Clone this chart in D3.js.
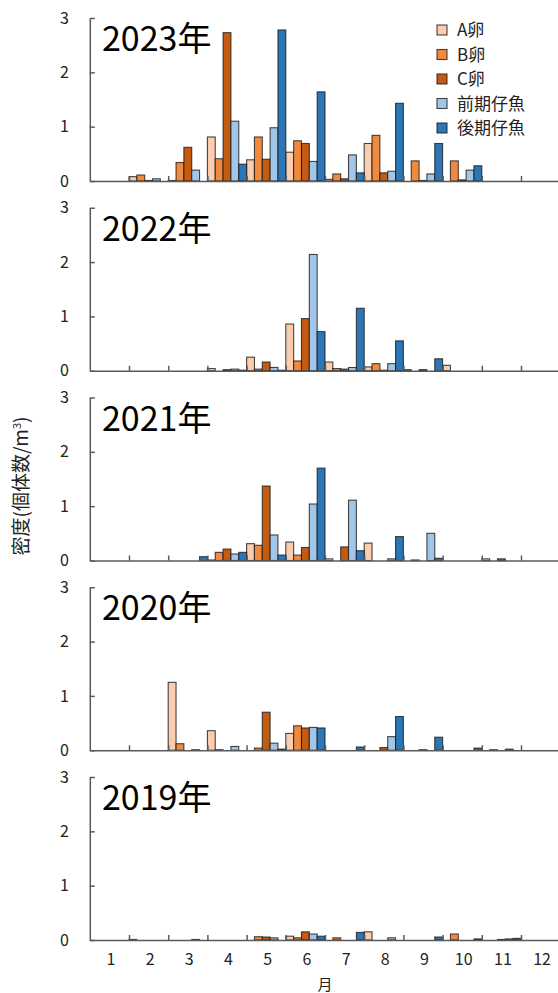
<!DOCTYPE html>
<html>
<head>
<meta charset="utf-8">
<script src="https://cdn.jsdelivr.net/npm/d3@7"></script>
<style>
  html, body { margin: 0; padding: 0; background: #fff; }
  svg { display: block; font-family: "Noto Sans CJK JP", "Noto Sans", sans-serif; }
</style>
</head>
<body>
<svg id="chart" width="558" height="993"></svg>
<script>
// ---- data ----
const months = [1, 2, 3, 4, 5, 6, 7, 8, 9, 10, 11, 12];
const series = ["A卵", "B卵", "C卵", "前期仔魚", "後期仔魚"];
const years = ["2023年", "2022年", "2021年", "2020年", "2019年"];
const yTicks = [0, 1, 2, 3];

// values per month (Jan..Dec), one array per series
const v2023_A  = [0, 0.08, 0.01, 0.81, 0.39, 0.53, 0.03, 0.69, 0, 0, 0, 0];
const v2023_B  = [0, 0.11, 0.34, 0.41, 0.81, 0.74, 0.13, 0.84, 0.37, 0.37, 0, 0];
const v2023_C  = [0, 0.01, 0.62, 2.73, 0.40, 0.69, 0.04, 0.15, 0.01, 0.02, 0, 0];
const v2023_Pr = [0, 0.04, 0.20, 1.10, 0.98, 0.36, 0.48, 0.18, 0.13, 0.20, 0, 0];
const v2023_Po = [0, 0, 0, 0.31, 2.78, 1.64, 0.15, 1.43, 0.69, 0.28, 0, 0];

const v2022_A  = [0, 0, 0, 0.04, 0.25, 0.86, 0.16, 0.07, 0.02, 0.10, 0, 0];
const v2022_B  = [0, 0, 0, 0, 0.03, 0.18, 0.04, 0.13, 0, 0, 0, 0];
const v2022_C  = [0, 0, 0, 0.02, 0.16, 0.96, 0.03, 0.01, 0.02, 0, 0, 0];
const v2022_Pr = [0, 0, 0, 0.03, 0.06, 2.14, 0.06, 0.13, 0, 0, 0, 0];
const v2022_Po = [0, 0, 0, 0.01, 0.01, 0.72, 1.15, 0.55, 0.22, 0, 0, 0];

const v2021_A  = [0, 0, 0, 0.01, 0.31, 0.34, 0.03, 0.32, 0, 0, 0.03, 0];
const v2021_B  = [0, 0, 0, 0.15, 0.28, 0.10, 0, 0, 0.01, 0, 0, 0];
const v2021_C  = [0, 0, 0, 0.21, 1.37, 0.24, 0.25, 0, 0, 0, 0.03, 0];
const v2021_Pr = [0, 0, 0, 0.12, 0.47, 1.04, 1.11, 0.03, 0.50, 0, 0, 0];
const v2021_Po = [0, 0, 0.07, 0.15, 0.10, 1.70, 0.18, 0.44, 0.04, 0, 0, 0];

const v2020_A  = [0, 0, 1.25, 0.36, 0, 0.31, 0, 0, 0, 0, 0, 0];
const v2020_B  = [0, 0, 0.12, 0.01, 0.04, 0.45, 0, 0, 0, 0, 0.01, 0];
const v2020_C  = [0, 0, 0, 0, 0.70, 0.41, 0, 0.05, 0.01, 0, 0, 0];
const v2020_Pr = [0, 0, 0.01, 0.07, 0.13, 0.42, 0, 0.25, 0, 0, 0.02, 0];
const v2020_Po = [0, 0, 0, 0, 0.02, 0.41, 0.06, 0.62, 0.24, 0.04, 0, 0];

const v2019_A  = [0, 0.01, 0, 0, 0, 0.07, 0, 0.15, 0, 0, 0, 0];
const v2019_B  = [0, 0, 0, 0, 0.06, 0.04, 0.04, 0, 0, 0.11, 0, 0];
const v2019_C  = [0, 0, 0, 0, 0.055, 0.15, 0, 0, 0, 0, 0.01, 0];
const v2019_Pr = [0, 0, 0.01, 0, 0.04, 0.11, 0, 0.04, 0, 0, 0.02, 0];
const v2019_Po = [0, 0, 0, 0, 0, 0.07, 0.14, 0, 0.055, 0.02, 0.03, 0];

const panelValues = [
  [v2023_A, v2023_B, v2023_C, v2023_Pr, v2023_Po],
  [v2022_A, v2022_B, v2022_C, v2022_Pr, v2022_Po],
  [v2021_A, v2021_B, v2021_C, v2021_Pr, v2021_Po],
  [v2020_A, v2020_B, v2020_C, v2020_Pr, v2020_Po],
  [v2019_A, v2019_B, v2019_C, v2019_Pr, v2019_Po]
];

// ---- styles / layout ----
const colors = ["#f9cdae", "#f28a3e", "#c55a11", "#a2c6e8", "#2e75b6"];
const axisColor = "#5a5a5a";
const top0 = 18, step = 189.75, panelH = 163;
const xLeft = 89.8, xRight = 560.2;

const svg = d3.select("#chart");
svg.append("rect").attr("width", 558).attr("height", 993).attr("fill", "#fff");

const x = d3.scaleBand().domain(months).range([xLeft, xRight]).padding(0);
const xs = d3.scaleBand().domain(series).range([0, x.bandwidth()]).padding(0);
const xLin = d3.scaleLinear().domain([0.5, 12.5]).range([xLeft, xRight]);
const y = d3.scaleLinear().domain([0, 3]).range([panelH, 0]);
const color = d3.scaleOrdinal().domain(series).range(colors);

panelValues.forEach((vals, i) => {
  const g = svg.append("g").attr("transform", `translate(0,${top0 + i * step})`);

  // bars
  const data = [];
  vals.forEach((arr, k) => arr.forEach((v, j) => {
    if (v > 0) data.push({ s: series[k], m: months[j], v });
  }));
  g.selectAll("rect.bar").data(data).join("rect")
    .attr("class", "bar")
    .attr("x", d => x(d.m) + xs(d.s))
    .attr("y", d => y(d.v))
    .attr("width", xs.bandwidth())
    .attr("height", d => y(0) - y(d.v))
    .attr("fill", d => color(d.s))
    .attr("stroke", "#1a1a1a")
    .attr("stroke-opacity", 0.8)
    .attr("stroke-width", 1.1);

  // y axis
  const ya = g.append("g").attr("transform", `translate(${xLeft},0)`)
    .call(d3.axisLeft(y).tickValues(yTicks).tickFormat(d3.format("d"))
      .tickSizeInner(-5).tickSizeOuter(0).tickPadding(21));
  ya.selectAll("path, line").attr("stroke", axisColor).attr("stroke-width", 1.5);
  ya.selectAll("text").attr("font-size", 16).attr("fill", "#222")
    .attr("font-family", "'Noto Sans CJK JP', sans-serif");

  // x axis (ticks at month boundaries, inward)
  const xa = g.append("g").attr("transform", `translate(0,${panelH})`)
    .call(d3.axisBottom(xLin).tickValues(d3.range(1.5, 12, 1)).tickFormat("")
      .tickSizeInner(-5).tickSizeOuter(0));
  xa.selectAll("path, line").attr("stroke", axisColor).attr("stroke-width", 1.5);

  if (i === panelValues.length - 1) {
    const xl = g.append("g").attr("transform", `translate(1.5,${panelH})`)
      .call(d3.axisBottom(x).tickSize(0).tickPadding(14));
    xl.select(".domain").remove();
    xl.selectAll("text").attr("font-size", 16).attr("fill", "#222")
      .attr("font-family", "'Noto Sans CJK JP', sans-serif");
  }

  // year title
  g.append("text").attr("x", 102).attr("y", 33)
    .attr("font-size", 34).attr("fill", "#000")
    .text(years[i]);

  // legend in first panel
  if (i === 0) {
    const lg = svg.append("g");
    series.forEach((s, k) => {
      const cy = 30 + k * 24.5;
      lg.append("rect").attr("x", 437).attr("y", cy - 5).attr("width", 10).attr("height", 10)
        .attr("fill", color(s)).attr("stroke", "#1a1a1a").attr("stroke-opacity", 0.8).attr("stroke-width", 1.1);
      lg.append("text").attr("x", 457).attr("y", cy).attr("dy", "0.36em")
        .attr("font-size", 17).attr("fill", "#222").text(s);
    });
  }
});

// axis titles
svg.append("text")
  .attr("x", 325).attr("y", 985).attr("dy", "0.35em")
  .attr("text-anchor", "middle").attr("font-size", 15).attr("fill", "#222")
  .text("月");

const yt = svg.append("text")
  .attr("transform", "translate(28,486) rotate(-90)")
  .attr("text-anchor", "middle").attr("font-size", 19).attr("fill", "#222");
yt.append("tspan").text("密度(個体数/m");
yt.append("tspan").attr("font-size", 11).attr("dy", "-0.6em").text("3");
yt.append("tspan").attr("dy", "0.35em").text(")");
</script>
</body>
</html>
